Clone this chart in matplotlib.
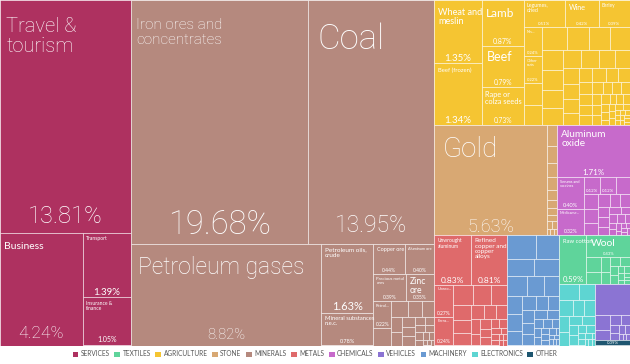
import matplotlib
matplotlib.use("Agg")
import matplotlib.pyplot as plt
from matplotlib.patches import Rectangle, Patch

# ---------------- data ----------------
sector_names = ["SERVICES", "TEXTILES", "AGRICULTURE", "STONE", "MINERALS", "METALS",
                "CHEMICALS", "VEHICLES", "MACHINERY", "ELECTRONICS", "OTHER"]
sector_colors = ["#AE3160", "#5FD49B", "#F5C532", "#D8A873", "#B5897E", "#DF6A6B",
                 "#C76ACB", "#8B74D3", "#6A9AD2", "#5ED5D2", "#1E5670"]

services_names = ["Travel & tourism", "Business", "Transport", "Insurance & finance"]
services_values = [13.81, 4.24, 1.39, 1.05]

minerals_names = ["Iron ores and concentrates", "Coal", "Petroleum gases",
                  "Petroleum oils, crude", "Mineral substances n.e.c.", "Copper ore",
                  "Aluminum ore", "Precious metal ores", "Zinc ore", "Petrol..."]
minerals_values = [19.68, 13.95, 8.82, 1.63, 0.78, 0.44, 0.40, 0.39, 0.35, 0.22]
minerals_small = [0.14, 0.12, 0.10, 0.09, 0.08, 0.07, 0.06, 0.05, 0.05, 0.04, 0.04,
                  0.03, 0.03, 0.03, 0.02, 0.02, 0.02, 0.01, 0.01, 0.01]

agri_names = ["Wheat and meslin", "Beef (frozen)", "Lamb", "Beef", "Rape or colza seeds",
              "Legumes, dried", "Wine", "Barley", "Nts...", "Other nuts"]
agri_values = [1.35, 1.34, 0.87, 0.79, 0.73, 0.51, 0.42, 0.39, 0.24, 0.22]
agri_col_small = [0.18, 0.17]
agri_small = [0.25, 0.23, 0.22, 0.20, 0.19, 0.18, 0.17, 0.16, 0.15, 0.14, 0.13, 0.12,
              0.12, 0.11, 0.10, 0.09, 0.09, 0.09, 0.08, 0.08, 0.07, 0.07, 0.06, 0.06,
              0.06, 0.05, 0.05, 0.05, 0.04, 0.04, 0.04, 0.04, 0.03, 0.03, 0.03, 0.03,
              0.03, 0.02, 0.02, 0.02, 0.02, 0.02, 0.02, 0.01, 0.01, 0.01, 0.01, 0.01,
              0.01, 0.01, 0.01, 0.01, 0.01]

stone_names = ["Gold"]
stone_values = [5.63]
stone_small = [0.10, 0.08, 0.07, 0.06, 0.05, 0.04, 0.03, 0.03, 0.02, 0.02, 0.01, 0.01, 0.01]

chem_names = ["Aluminum oxide", "Serums and vaccines", "Medicame..."]
chem_values = [1.71, 0.40, 0.32]
chem_small = [0.12, 0.12, 0.11, 0.10, 0.09, 0.08, 0.07, 0.06, 0.06, 0.05, 0.05, 0.04,
              0.04, 0.03, 0.03, 0.03, 0.02, 0.02, 0.02, 0.02, 0.01, 0.01, 0.01, 0.01,
              0.01, 0.01]

metals_names = ["Unwrought aluminum", "Refined copper and copper alloys", "Unwro...", "Ferro..."]
metals_values = [0.83, 0.81, 0.27, 0.24]
metals_small = [0.18, 0.16, 0.14, 0.12, 0.11, 0.10, 0.09, 0.08, 0.07, 0.06, 0.05, 0.05,
                0.04, 0.04, 0.03, 0.03, 0.03, 0.02, 0.02, 0.02, 0.01, 0.01, 0.01, 0.01]

machinery_small = [0.30, 0.25, 0.22, 0.20, 0.18, 0.16, 0.14, 0.12, 0.11, 0.10, 0.09,
                   0.08, 0.07, 0.07, 0.06, 0.06, 0.05, 0.05, 0.04, 0.04, 0.03, 0.03,
                   0.03, 0.02, 0.02, 0.02, 0.02, 0.01, 0.01, 0.01, 0.01, 0.01, 0.01]

textiles_names = ["Raw cotton", "Wool"]
textiles_values = [0.59, 0.43]
textiles_small = [0.10, 0.08, 0.06, 0.05, 0.04, 0.04, 0.03, 0.03, 0.02, 0.02, 0.02,
                  0.01, 0.01, 0.01, 0.01]

electronics_small = [0.14, 0.12, 0.10, 0.09, 0.08, 0.07, 0.06, 0.05, 0.05, 0.04, 0.04,
                     0.03, 0.03, 0.02, 0.02, 0.02, 0.01, 0.01, 0.01, 0.01]

vehicles_small = [0.50, 0.10, 0.07, 0.05, 0.04, 0.03, 0.03, 0.02, 0.02, 0.01, 0.01, 0.01]

other_values = [0.09]

# ---------------- label styles: text, name size, name top pad, pct size, pct bottom pad ----
STY = {
    "Travel & tourism": ("Travel &\ntourism", 14.5, 17, 17, 10),
    "Business": ("Business", 7.5, 9, 12.5, 7),
    "Transport": ("Transport", 3.6, 3, 7, 2),
    "Insurance & finance": ("Insurance &\nfinance", 3.6, 4, 5, 3),
    "Iron ores and concentrates": ("Iron ores and\nconcentrates", 11, 18, 23.5, 10),
    "Coal": ("Coal", 25, 22, 16.5, 12),
    "Petroleum gases": ("Petroleum gases", 16.5, 12, 10.5, 6),
    "Petroleum oils, crude": ("Petroleum oils,\ncrude", 4.6, 4, 8, 3),
    "Mineral substances n.e.c.": ("Mineral substances\nn.e.c.", 4.2, 3, 4, 2),
    "Copper ore": ("Copper ore", 4, 3, 3.6, 2),
    "Aluminum ore": ("Aluminum ore", 2.8, 3, 3.6, 2),
    "Precious metal ores": ("Precious metal\nores", 3.2, 3, 3.6, 2),
    "Zinc ore": ("Zinc\nore", 6.2, 3, 3.6, 2),
    "Petrol...": ("Petrol...", 3, 3, 3.6, 2),
    "Wheat and meslin": ("Wheat and\nmeslin", 6.6, 8, 7, 2),
    "Beef (frozen)": ("Beef (frozen)", 4.2, 5, 7, 2),
    "Lamb": ("Lamb", 8.5, 8, 5, 2),
    "Beef": ("Beef", 9, 5, 4.8, 2),
    "Rape or colza seeds": ("Rape or\ncolza seeds", 5.3, 4, 4.8, 2),
    "Legumes, dried": ("Legumes,\ndried", 3.8, 3, 3.2, 2),
    "Wine": ("Wine", 5.2, 4, 3.2, 2),
    "Barley": ("Barley", 3.5, 3, 3.2, 2),
    "Nts...": ("Nts...", 2.6, 3, 3, 2),
    "Other nuts": ("Other\nnuts", 3, 3, 3, 2),
    "Gold": ("Gold", 20, 11, 13, 3),
    "Aluminum oxide": ("Aluminum\noxide", 7.3, 5, 5.8, 2),
    "Serums and vaccines": ("Serums and\nvaccines", 2.8, 3, 4, 2),
    "Medicame...": ("Medicame...", 2.8, 2, 3.6, 2),
    "Unwrought aluminum": ("Unwrought\naluminum", 3.5, 3, 6, 2),
    "Refined copper and copper alloys": ("Refined\ncopper and\ncopper\nalloys", 4.6, 3, 6, 2),
    "Unwro...": ("Unwro...", 2.8, 2, 3.6, 2),
    "Ferro...": ("Ferro...", 2.8, 2, 3.6, 2),
    "Raw cotton": ("Raw cotton", 4.2, 4, 5.5, 2),
    "Wool": ("Wool", 7.5, 4, 3, 2),
}

# ---------------- tree helpers ----------------
def leaf(sec, name, value):
    return {"kind": "leaf", "sec": sec, "name": name, "value": value}

def L(sec, names, values, i):
    return leaf(sec, names[i], values[i])

def SQ(sec, items, npct=0):
    items = sorted(items, key=lambda t: -t[1])
    return {"kind": "sq", "sec": sec, "items": items, "npct": npct,
            "value": sum(v for _, v in items)}

def H(*ch):
    return {"kind": "h", "children": ch, "value": sum(c["value"] for c in ch)}

def V(*ch):
    return {"kind": "v", "children": ch, "value": sum(c["value"] for c in ch)}

def unl(vals):
    return [(None, v) for v in vals]

# ---------------- squarify ----------------
def _layout(sizes, x, y, dx, dy):
    covered = sum(sizes)
    out = []
    if dx >= dy:
        w = covered / dy
        for s in sizes:
            out.append((x, y, w, s / w)); y += s / w
    else:
        h = covered / dx
        for s in sizes:
            out.append((x, y, s / h, h)); x += s / h
    return out

def _leftover(sizes, x, y, dx, dy):
    covered = sum(sizes)
    if dx >= dy:
        w = covered / dy
        return x + w, y, dx - w, dy
    h = covered / dx
    return x, y + h, dx, dy - h

def _worst(sizes, x, y, dx, dy):
    return max(max(r[2] / r[3], r[3] / r[2]) for r in _layout(sizes, x, y, dx, dy))

def squarify(sizes, x, y, dx, dy):
    if not sizes:
        return []
    if len(sizes) == 1:
        return _layout(sizes, x, y, dx, dy)
    i = 1
    while i < len(sizes) and _worst(sizes[:i], x, y, dx, dy) >= _worst(sizes[:i + 1], x, y, dx, dy):
        i += 1
    cur, rem = sizes[:i], sizes[i:]
    lx, ly, ldx, ldy = _leftover(cur, x, y, dx, dy)
    return _layout(cur, x, y, dx, dy) + squarify(rem, lx, ly, ldx, ldy)

# ---------------- build tree ----------------
S, T, A, ST, M, ME, C, VE, MA, E, O = range(11)

services = V(L(S, services_names, services_values, 0),
             H(L(S, services_names, services_values, 1),
               V(L(S, services_names, services_values, 2),
                 L(S, services_names, services_values, 3))))

mn = lambda i: L(M, minerals_names, minerals_values, i)
minerals = V(H(mn(0), mn(1)),
             H(mn(2),
               H(V(mn(3), mn(4)),
                 V(H(mn(5), mn(6)), H(mn(7), mn(8)),
                   SQ(M, [(minerals_names[9], minerals_values[9])] + unl(minerals_small))))))

ag = lambda i: L(A, agri_names, agri_values, i)
agriculture = H(V(ag(0), ag(1)), V(ag(2), ag(3), ag(4)),
                V(H(ag(5), ag(6), ag(7)),
                  H(V(ag(8), ag(9), *[leaf(A, None, v) for v in agri_col_small]),
                    SQ(A, unl(agri_small)))))

stone = H(L(ST, stone_names, stone_values, 0), SQ(ST, unl(stone_small)))

ch = lambda i: L(C, chem_names, chem_values, i)
chemicals = V(ch(0), H(V(ch(1), ch(2)), SQ(C, unl(chem_small), npct=2)))

me = lambda i: L(ME, metals_names, metals_values, i)
metals = V(H(me(0), me(1)), H(V(me(2), me(3)), SQ(ME, unl(metals_small))))

machinery = SQ(MA, unl(machinery_small))
tx = lambda i: L(T, textiles_names, textiles_values, i)
textiles = H(tx(0), V(tx(1), SQ(T, unl(textiles_small))))
electronics = SQ(E, unl(electronics_small))
vehicles = SQ(VE, unl(vehicles_small))
other = SQ(O, unl(other_values), npct=1)

right = V(agriculture, H(stone, chemicals),
          H(metals, machinery, V(textiles, H(electronics, V(vehicles, other)))))
root = H(services, minerals, right)

# ---------------- figure ----------------
W, Hh = 630.0, 345.0
fig = plt.figure(figsize=(6.30, 3.64), dpi=100)
ax = fig.add_axes([0, 1 - 345.5 / 364, 1, 345.5 / 364])
ax.set_xlim(0, W)
ax.set_ylim(Hh, 0)
ax.axis("off")
FONT_BIG = ["Roboto", "Lato", "DejaVu Sans"]
FONT = ["Lato", "DejaVu Sans"]
EDGE = (1, 1, 1, 0.55)

def fam(fs):
    return FONT_BIG if fs >= 10 else FONT

def wt(fs):
    return "light" if fs >= 10 else "normal"

def draw_rect(x, y, w, h, sec):
    ax.add_patch(Rectangle((x, y), w, h, facecolor=sector_colors[sec], edgecolor=EDGE,
                           linewidth=0.6))

def pct_text(x, y, w, h, value, fs, pad):
    ax.text(x + w / 2, y + h - pad, f"{value:.2f}%", ha="center", va="baseline",
            color="white", fontsize=fs, family=fam(fs), fontweight=wt(fs))

def place(node, x, y, w, h):
    k = node["kind"]
    if k == "leaf":
        draw_rect(x, y, w, h, node["sec"])
        nm = node["name"]
        if nm in STY:
            txt, nfs, npad, pfs, ppad = STY[nm]
            ax.text(x + 2 + 0.3 * nfs, y + npad, txt, ha="left", va="top", color="white",
                    fontsize=nfs, family=fam(nfs), fontweight=wt(nfs), linespacing=1.05)
            pct_text(x, y, w, h, node["value"], pfs, ppad)
        return
    if k == "sq":
        tot = node["value"]
        sizes = [v * w * h / tot for _, v in node["items"]]
        rects = squarify(sizes, x, y, w, h)
        for j, ((nm, v), r) in enumerate(zip(node["items"], rects)):
            draw_rect(*r, node["sec"])
            if nm in STY:
                txt, nfs, npad, pfs, ppad = STY[nm]
                ax.text(r[0] + 2, r[1] + npad, txt, ha="left", va="top", color="white",
                        fontsize=nfs, family=fam(nfs), fontweight=wt(nfs))
                pct_text(*r, v, pfs, ppad)
            elif j < node["npct"]:
                pct_text(*r, v, 3.2, 1.5)
        return
    tot = node["value"]
    for c in node["children"]:
        f = c["value"] / tot
        if k == "h":
            place(c, x, y, w * f, h); x += w * f
        else:
            place(c, x, y, w, h * f); y += h * f

place(root, 0, 0, W, Hh)

handles = [Patch(facecolor=c, edgecolor="none") for c in sector_colors]
fig.legend(handles, sector_names, loc="center", bbox_to_anchor=(0.5, 1 - 354 / 364),
           ncol=11, frameon=False, handlelength=0.9, handleheight=0.9,
           handletextpad=0.35, columnspacing=0.7, labelcolor="#555555",
           prop={"family": FONT, "size": 4.7})

fig.savefig("out.png", dpi=100)
